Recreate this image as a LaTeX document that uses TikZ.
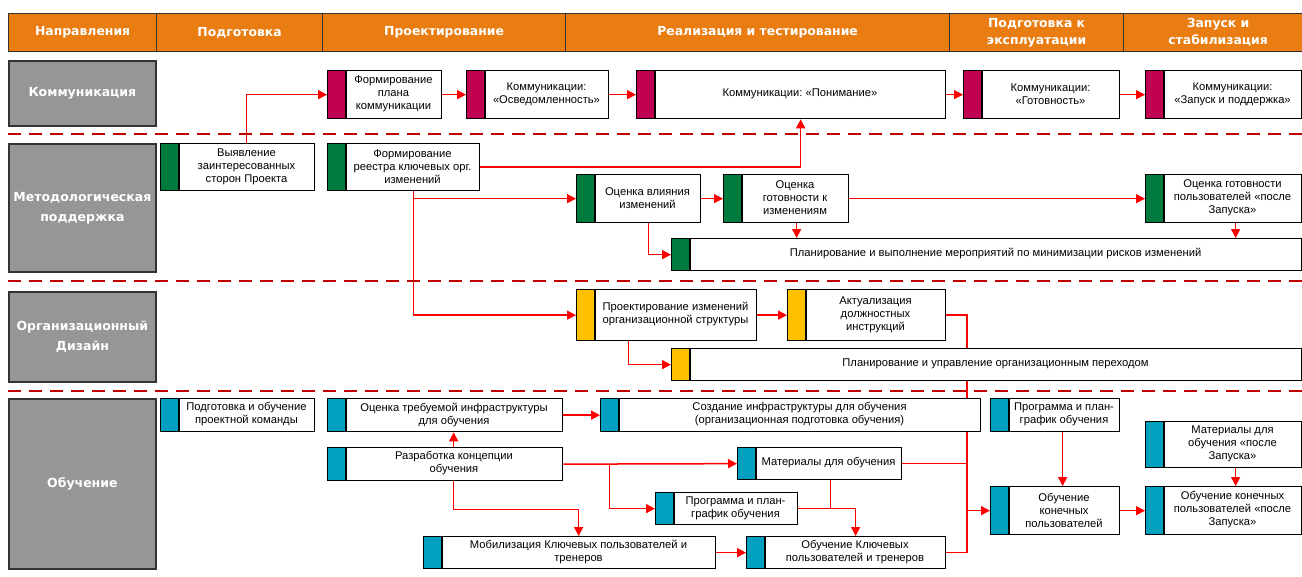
\documentclass[tikz,border=0pt]{standalone}
\usepackage{fontspec}
\setmainfont{Liberation Sans}
\newfontfamily\hdrfont{DejaVu Sans}
\usetikzlibrary{arrows.meta,calc}
\definecolor{hdrorange}{RGB}{233,125,18}
\definecolor{lblgray}{RGB}{150,150,150}
\definecolor{sepred}{RGB}{192,0,0}
\definecolor{ccrim}{RGB}{192,0,80}
\definecolor{cgreen}{RGB}{0,122,61}
\definecolor{cyellow}{RGB}{255,192,0}
\definecolor{cteal}{RGB}{0,160,190}
\definecolor{lnred}{RGB}{255,0,0}
\pgfdeclarelayer{bg}
\pgfdeclarelayer{paper}
\pgfsetlayers{paper,bg,main}
\frenchspacing
\tikzset{
  hdr/.style={draw=black!80, line width=1.2pt, fill=hdrorange, text=white, inner sep=0pt,
    align=center, font=\hdrfont\bfseries\fontsize{12.4}{17}\selectfont, anchor=north west},
  lbl/.style={draw=black!80, line width=1.8pt, fill=lblgray, text=white, inner sep=0pt,
    align=center, font=\hdrfont\bfseries\fontsize{12.5}{20}\selectfont, anchor=north west},
  tb/.style={draw=black, line width=1.3pt, fill=white, inner sep=0pt, anchor=north west},
  strip/.style={path picture={\fill[#1] (path picture bounding box.north west) rectangle ([xshift=19pt]path picture bounding box.south west);}},
  tt/.style={align=center, inner sep=0pt, font=\fontsize{11.2}{13}\selectfont},
  sepline/.style={draw=sepred, line width=2.5pt, dash pattern=on 13pt off 8pt},
  ln/.style={draw=lnred, line width=1.5pt},
  arr/.style={ln, -{Triangle[length=9pt,width=9pt]}}
}
\newcommand\tbox[7]{%
  \pgfmathsetmacro\bw{#4-#2}\pgfmathsetmacro\bh{#5-#3}%
  \pgfmathsetmacro\tx{(#2+#4+19)/2}\pgfmathsetmacro\ty{(#3+#5)/2}%
  \node[tb, minimum width=\bw pt, minimum height=\bh pt, strip=#6] (#1) at (#2,#3) {};
  \draw[line width=1.3pt] ([xshift=19pt]#1.north west) -- ([xshift=19pt]#1.south west);
  \node[tt] (#1-t) at (\tx,\ty) {#7};
}
\newcommand\hcell[5]{%
  \pgfmathsetmacro\bw{#3-#2}%
  \node[hdr, minimum width=\bw pt, minimum height=38pt] (#1) at (#2,13) {#4};
}
\newcommand\lcell[5]{%
  \pgfmathsetmacro\bw{155-8}\pgfmathsetmacro\bh{#3-#2}%
  \node[lbl, minimum width=\bw pt, minimum height=\bh pt] (#1) at (8,#2) {#4};
}
\begin{document}
\begin{tikzpicture}[x=1pt,y=-1pt]
\useasboundingbox (0,0) rectangle (1302,576);
\begin{pgfonlayer}{paper}
\fill[white] (0,0) rectangle (1302,576);
\end{pgfonlayer}
% header
\hcell{h1}{8}{156}{Направления}{}
\hcell{h2}{156}{322}{Подготовка}{}
\hcell{h3}{322}{565}{Проектирование}{}
\hcell{h4}{565}{949}{Реализация и тестирование}{}
\hcell{h5}{949}{1123}{Подготовка к\\эксплуатации}{}
\hcell{h6}{1123}{1312}{Запуск и\\стабилизация}{}
% row labels
\lcell{l1}{60}{125}{Коммуникация}{}
\lcell{l2}{143}{271}{Методологическая\\поддержка}{}
\lcell{l3}{291}{381}{Организационный\\Дизайн}{}
\lcell{l4}{398}{568}{Обучение}{}
% separators
\draw[sepline] (8,134) -- (1302,134);
\draw[sepline] (8,281) -- (1302,281);
\draw[sepline] (8,391) -- (1302,391);
% row 1
\tbox{B1}{327}{70}{441}{118}{ccrim}{Формирование\\плана\\коммуникации}
\tbox{B2}{466}{70}{608}{118}{ccrim}{Коммуникации:\\«Осведомленность»}
\tbox{B3}{636}{70}{945}{118}{ccrim}{Коммуникации: «Понимание»}
\tbox{B4}{963}{70}{1119}{118}{ccrim}{Коммуникации:\\«Готовность»}
\tbox{B5}{1145}{70}{1301}{118}{ccrim}{Коммуникации:\\«Запуск и поддержка»}
% row 2
\tbox{M1}{160}{143}{314}{190}{cgreen}{Выявление\\заинтересованных\\сторон Проекта}
\tbox{M2}{327}{143}{479}{190}{cgreen}{Формирование\\реестра ключевых орг.\\изменений}
\tbox{M3}{576}{174}{700}{222}{cgreen}{Оценка влияния\\изменений}
\tbox{M4}{723}{174}{848}{222}{cgreen}{Оценка\\готовности к\\изменениям}
\tbox{M5}{1145}{174}{1301}{222}{cgreen}{Оценка готовности\\пользователей «после\\Запуска»}
\tbox{M6}{671}{238}{1301}{270}{cgreen}{Планирование и выполнение мероприятий по минимизации рисков изменений}
% row 3
\tbox{O1}{576}{289}{756}{340}{cyellow}{Проектирование изменений\\организационной структуры}
\tbox{O2}{787}{289}{945}{340}{cyellow}{Актуализация\\должностных\\инструкций}
\tbox{O3}{671}{348}{1301}{380}{cyellow}{Планирование и управление организационным переходом}
% row 4
\tbox{T1}{160}{398}{314}{431}{cteal}{Подготовка и обучение\\проектной команды}
\tbox{T2}{327}{398}{562}{431}{cteal}{Оценка требуемой инфраструктуры\\для обучения}
\tbox{T3}{600}{398}{980}{431}{cteal}{Создание инфраструктуры для обучения\\(организационная подготовка обучения)}
\tbox{T4}{990}{398}{1119}{431}{cteal}{Программа и план-\\график обучения}
\tbox{T5}{327}{447}{562}{480}{cteal}{Разработка концепции\\обучения}
\tbox{T6}{737}{447}{901}{479}{cteal}{Материалы для обучения}
\tbox{T7}{655}{492}{797}{524}{cteal}{Программа и план-\\график обучения}
\tbox{T8}{423}{536}{715}{568}{cteal}{Мобилизация Ключевых пользователей и\\тренеров}
\tbox{T9}{746}{536}{945}{568}{cteal}{Обучение Ключевых\\пользователей и тренеров}
\tbox{T10}{990}{486}{1119}{534}{cteal}{Обучение\\конечных\\пользователей}
\tbox{T11}{1145}{421}{1301}{467}{cteal}{Материалы для\\обучения «после\\Запуска»}
\tbox{T12}{1145}{486}{1301}{534}{cteal}{Обучение конечных\\пользователей «после\\Запуска»}
\coordinate (bus) at (967,300);
\begin{pgfonlayer}{bg}
% row 1 chain
\draw[arr] ([xshift=9pt]M1.north) |- (B1.west);
\draw[arr] (B1.east) -- (B2.west);
\draw[arr] (B2.east) -- (B3.west);
\draw[arr] (B3.east) -- (B4.west);
\draw[arr] (B4.east) -- (B5.west);
% row 2
\draw[arr] (M2.east) -| ([xshift=9.5pt]B3.south);
\draw[arr] ([xshift=10pt]M2.south) |- (M3.west);
\draw[arr] ([xshift=10pt]M2.south) |- (O1.west);
\draw[arr] (M3.east) -- (M4.west);
\draw[arr] ([xshift=10pt]M3.south) |- (M6.west);
\draw[arr] (M4.east) -- (M5.west);
\draw[arr] ([xshift=10.5pt]M4.south) -- ([xshift=10.5pt]M4.south |- M6.north);
\draw[arr] ([xshift=12pt]M5.south) -- ([xshift=12pt]M5.south |- M6.north);
% row 3
\draw[arr] (O1.east) -- (O2.west);
\draw[arr] ([xshift=-38pt]O1.south) |- (O3.west);
\draw[ln] (O2.east) -| (T9.east -| bus) -- (T9.east);
\draw[ln] (T6.east) -- (T6.east -| bus);
\draw[arr] (T10.west -| bus) -- (T10.west);
% row 4
\draw[arr] ([xshift=8.5pt]T5.north) -- ([xshift=8.5pt]T2.south);
\draw[arr] (T2.east) -- (T3.west);
\draw[arr] (T5.east) -- (T6.west);
\draw[arr] ([xshift=46pt]T5.east) |- (T7.west);
\draw[arr] ([xshift=8.5pt]T5.south) -- ++(0,28) -| ([xshift=9pt]T8.north);
\draw[arr] (T8.east) -- (T9.west);
\draw[arr] (T7.east) -| ([xshift=9.5pt]T9.north);
\draw[ln] ([xshift=11pt]T6.south) -- ([xshift=11pt]T6.south |- T7.east);
\draw[arr] ([xshift=7.5pt]T4.south) -- ([xshift=7.5pt]T10.north);
\draw[arr] (T10.east) -- (T12.west);
\draw[arr] ([xshift=12pt]T11.south) -- ([xshift=12pt]T12.north);
\end{pgfonlayer}
\end{tikzpicture}
\end{document}
